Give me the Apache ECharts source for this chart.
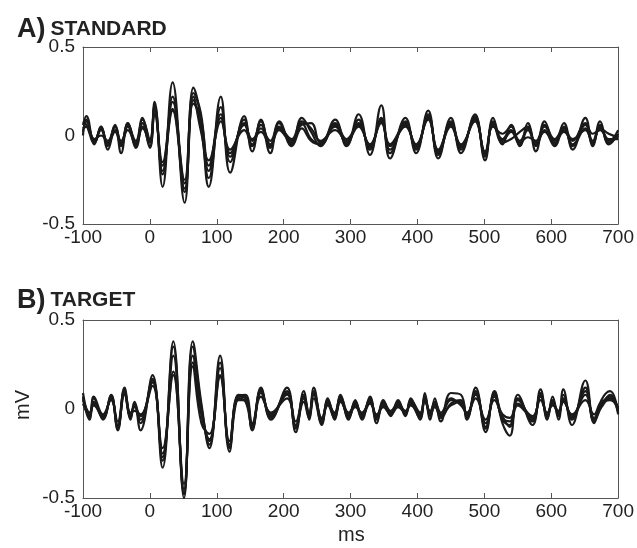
<!DOCTYPE html>
<html>
<head>
<meta charset="utf-8">
<script src="https://cdn.jsdelivr.net/npm/echarts@6/dist/echarts.min.js"></script>
<style>
  html, body { margin: 0; padding: 0; background: #fff; }
  #main { width: 637px; height: 548px; }
</style>
</head>
<body>
<div id="main"></div>
<script>
// x tick values (ms)
var xTicks = [-100, 0, 100, 200, 300, 400, 500, 600, 700];

// A) STANDARD - sample times (ms) and five overlaid traces (mV)
var timeStandard = [-100, -95, -83, -73, -63, -52, -43, -33, -21, -11, 0, 7, 19, 34, 52, 65, 76, 88, 106, 120,
  141, 153, 166, 180, 193, 212, 227, 241, 255, 277, 294, 312, 329, 346, 359, 382, 398, 416, 431, 450,
  465, 486, 501, 513, 527, 540, 553, 565, 577, 590, 605, 619, 632, 651, 662, 673, 686, 700];
var standard1 = [0.06, 0.11, -0.05, 0.05, -0.06, 0.06, -0.05, 0.07, -0.06, 0.10, -0.04, 0.19, -0.29, 0.30, -0.38, 0.27, 0.10, -0.29, 0.22, -0.21,
  0.11, -0.09, 0.09, -0.10, 0.07, -0.05, 0.10, 0.02, -0.06, 0.09, -0.06, 0.12, -0.11, 0.17, -0.13, 0.10, -0.10, 0.14, -0.13, 0.10,
  -0.10, 0.12, -0.14, 0.10, -0.05, 0.06, -0.06, 0.07, -0.09, 0.08, -0.05, 0.07, -0.08, 0.10, -0.06, 0.08, -0.05, 0.01];
var standard2 = [0.02, 0.08, -0.03, 0.04, -0.08, 0.03, -0.03, 0.05, -0.07, 0.07, -0.07, 0.15, -0.17, 0.15, -0.27, 0.24, 0.13, -0.20, 0.10, -0.10,
  0.06, -0.03, 0.06, -0.05, 0.04, -0.03, 0.06, 0.07, -0.04, 0.05, -0.04, 0.07, -0.06, 0.08, -0.08, 0.07, -0.07, 0.11, -0.10, 0.08,
  -0.07, 0.10, -0.11, 0.07, -0.02, 0.03, -0.03, 0.04, -0.05, 0.05, -0.03, 0.03, -0.05, 0.06, -0.03, 0.05, -0.02, -0.02];
var standard3 = [0.08, 0.06, -0.04, 0.03, -0.04, 0.05, -0.10, 0.06, -0.03, 0.09, -0.02, 0.17, -0.22, 0.22, -0.32, 0.20, 0.05, -0.24, 0.16, -0.15,
  0.09, -0.06, 0.04, -0.03, 0.08, -0.06, 0.04, -0.03, -0.05, 0.06, -0.05, 0.09, -0.08, 0.10, -0.10, 0.08, -0.08, 0.12, -0.11, 0.07,
  -0.08, 0.11, -0.12, 0.08, -0.04, -0.02, 0.02, 0.05, -0.06, 0.03, -0.06, 0.05, -0.06, 0.04, -0.05, 0.06, -0.04, 0.00];
var standard4 = [0.00, 0.09, -0.02, 0.00, -0.03, 0.05, -0.04, 0.03, -0.05, 0.05, -0.06, 0.12, -0.15, 0.19, -0.25, 0.18, 0.10, -0.17, 0.12, -0.08,
  0.03, -0.05, 0.08, -0.07, 0.05, -0.02, 0.08, 0.04, -0.03, 0.03, -0.03, 0.05, -0.05, 0.07, -0.06, 0.05, -0.05, 0.09, -0.08, 0.06,
  -0.05, 0.08, -0.09, 0.05, 0.01, 0.05, -0.04, -0.01, -0.03, 0.06, -0.02, 0.04, -0.03, 0.07, 0.01, 0.03, -0.03, 0.03];
var standard5 = [0.04, 0.05, -0.04, 0.05, -0.05, 0.02, -0.06, 0.07, -0.04, 0.04, -0.03, 0.16, -0.20, 0.14, -0.30, 0.22, 0.03, -0.14, 0.08, -0.12,
  0.07, -0.02, 0.02, -0.06, 0.03, -0.04, 0.07, -0.02, -0.05, 0.07, -0.02, 0.06, -0.07, 0.09, -0.05, 0.06, -0.06, 0.10, -0.09, 0.05,
  -0.06, 0.09, -0.10, 0.06, -0.03, 0.02, -0.05, 0.03, -0.04, 0.02, -0.04, 0.02, -0.02, 0.03, -0.04, 0.04, 0.01, -0.01];

// B) TARGET - sample times (ms) and five overlaid traces (mV)
var timeTarget = [-100, -90, -84, -70, -58, -48, -38, -29, -23, -14, 4, 19, 35, 51, 64, 77, 89, 105, 119, 132,
  143, 153, 166, 181, 205, 218, 230, 238, 245, 257, 266, 276, 285, 297, 307, 317, 329, 339, 349, 360,
  371, 382, 390, 404, 411, 419, 426, 435, 450, 465, 474, 487, 502, 515, 527, 538, 550, 572, 584, 594,
  602, 611, 618, 631, 651, 664, 675, 688, 700];
var target1 = [0.09, -0.05, 0.06, -0.06, 0.08, -0.12, 0.12, -0.05, 0.03, -0.12, 0.19, -0.33, 0.38, -0.50, 0.38, 0.03, -0.22, 0.30, -0.24, 0.08,
  0.07, -0.12, 0.12, -0.06, 0.12, -0.13, 0.10, -0.06, 0.12, -0.09, 0.06, -0.06, 0.08, -0.06, 0.05, -0.06, 0.07, -0.08, 0.05, -0.04,
  0.05, -0.04, 0.06, -0.06, 0.09, -0.06, 0.06, -0.07, 0.09, 0.08, -0.06, 0.12, -0.13, 0.10, -0.08, -0.15, 0.08, -0.09, 0.11, -0.06,
  0.07, -0.06, 0.11, -0.09, 0.16, -0.08, 0.05, 0.10, -0.02];
var target2 = [0.05, -0.03, 0.03, -0.04, 0.06, -0.09, 0.10, -0.03, 0.01, -0.04, 0.15, -0.25, 0.21, -0.45, 0.26, -0.03, -0.17, 0.19, -0.20, 0.06,
  0.04, -0.10, 0.09, -0.03, 0.08, -0.09, 0.07, -0.02, 0.09, -0.06, 0.04, -0.04, 0.05, -0.04, 0.03, -0.03, 0.05, -0.05, 0.03, -0.02,
  0.02, -0.02, 0.03, -0.04, 0.05, -0.02, 0.03, -0.04, 0.05, 0.03, -0.03, 0.08, -0.08, 0.07, -0.05, -0.07, 0.05, -0.06, 0.07, -0.03,
  0.03, -0.02, 0.06, -0.05, 0.08, -0.05, 0.03, 0.07, 0.00];
var target3 = [0.07, -0.06, 0.04, -0.05, 0.07, -0.10, 0.08, -0.06, 0.04, -0.06, 0.17, -0.29, 0.35, -0.47, 0.35, 0.01, -0.20, 0.26, -0.22, 0.07,
  0.08, -0.08, 0.10, -0.04, 0.10, -0.11, 0.06, -0.04, 0.08, -0.07, 0.05, -0.03, 0.06, -0.05, 0.02, -0.05, 0.06, -0.06, 0.02, -0.03,
  0.04, -0.03, 0.04, -0.03, 0.07, -0.04, 0.02, -0.05, 0.03, 0.05, -0.04, 0.10, -0.10, 0.09, -0.06, -0.09, 0.06, -0.07, 0.08, -0.04,
  0.05, -0.04, 0.08, -0.06, 0.12, -0.06, 0.02, 0.08, -0.03];
var target4 = [0.03, -0.04, 0.07, -0.03, 0.05, -0.07, 0.11, -0.02, -0.01, -0.03, 0.13, -0.22, 0.19, -0.42, 0.24, -0.08, -0.14, 0.18, -0.18, 0.05,
  0.05, -0.09, 0.07, -0.02, 0.06, -0.07, 0.08, -0.03, 0.10, -0.05, 0.02, -0.05, 0.04, -0.03, 0.04, -0.04, 0.03, -0.04, 0.04, -0.01,
  0.03, -0.01, 0.02, -0.05, 0.04, -0.01, 0.04, -0.02, 0.06, 0.02, -0.02, 0.06, -0.06, 0.05, -0.03, -0.05, 0.03, -0.04, 0.05, -0.02,
  0.02, -0.01, 0.04, -0.03, 0.05, -0.03, 0.04, 0.05, 0.01];
var target5 = [0.06, -0.02, 0.02, -0.05, 0.08, -0.11, 0.09, -0.04, 0.02, -0.08, 0.16, -0.27, 0.30, -0.48, 0.30, -0.02, -0.18, 0.23, -0.21, 0.07,
  0.06, -0.11, 0.11, -0.05, 0.09, -0.10, 0.04, -0.05, 0.06, -0.08, 0.03, -0.02, 0.07, -0.02, 0.01, -0.02, 0.04, -0.03, 0.01, -0.03,
  0.01, -0.02, 0.05, -0.02, 0.06, -0.03, 0.01, -0.03, 0.02, 0.04, -0.05, 0.09, -0.11, 0.08, -0.04, -0.10, 0.02, -0.05, 0.09, -0.05,
  0.04, -0.03, 0.05, -0.04, 0.10, -0.07, 0.01, 0.06, -0.01];

var chart = echarts.init(document.getElementById('main'));

var fontName = 'Liberation Sans, Arial, sans-serif';
var lineColor = '#1a1a1a';

function pairs(times, vals) {
    return times.map(function (t, i) { return [t, vals[i]]; });
}

function traceSeries(idx, times, list) {
    return list.map(function (vals) {
        return {
            type: 'line',
            xAxisIndex: idx * 2,
            yAxisIndex: idx,
            data: pairs(times, vals),
            showSymbol: false,
            smooth: 0.45,
            lineStyle: { color: lineColor, width: 2.2 },
            silent: true,
            animation: false
        };
    });
}

function xAxisFor(idx, pos) {
    return {
        type: 'value', gridIndex: idx, position: pos, min: -100, max: 700, interval: 100,
        axisLine: { show: true, onZero: false, lineStyle: { color: '#555', width: 1 } },
        axisTick: { show: true, inside: true, length: 5, lineStyle: { color: '#555' } },
        axisLabel: { show: pos === 'bottom', color: '#222', fontSize: 19, fontFamily: fontName, margin: 4 },
        splitLine: { show: false }
    };
}

function yAxisFor(idx, pos) {
    return {
        type: 'value', gridIndex: idx, position: pos, min: -0.5, max: 0.5, interval: 0.5,
        axisLine: { show: true, onZero: false, lineStyle: { color: '#555', width: 1 } },
        axisTick: { show: false },
        axisLabel: { show: pos === 'left', color: '#222', fontSize: 19, fontFamily: fontName, margin: 8 },
        splitLine: { show: false }
    };
}

var option = {
    backgroundColor: '#fff',
    title: [
        {
            text: '{a|A)} {b|STANDARD}', left: 12, top: 11,
            textStyle: { rich: {
                a: { fontSize: 27, fontWeight: 'bold', fontFamily: fontName, color: '#222' },
                b: { fontSize: 21, fontWeight: 'bold', fontFamily: fontName, color: '#222' }
            } }
        },
        {
            text: '{a|B)} {b|TARGET}', left: 12, top: 282,
            textStyle: { rich: {
                a: { fontSize: 27, fontWeight: 'bold', fontFamily: fontName, color: '#222' },
                b: { fontSize: 21, fontWeight: 'bold', fontFamily: fontName, color: '#222' }
            } }
        }
    ],
    grid: [
        { left: 83, top: 47, width: 538, height: 177 },
        { left: 83, top: 320, width: 538, height: 178 }
    ],
    xAxis: [xAxisFor(0, 'bottom'), xAxisFor(0, 'top'), xAxisFor(1, 'bottom'), xAxisFor(1, 'top')],
    yAxis: [yAxisFor(0, 'left'), yAxisFor(1, 'left'), yAxisFor(0, 'right'), yAxisFor(1, 'right')],
    graphic: [
        { type: 'text', left: 13, top: 390, rotation: Math.PI / 2,
          style: { text: 'mV', fontSize: 20, fontFamily: fontName, fill: '#222' } },
        { type: 'text', left: 338, top: 525,
          style: { text: 'ms', fontSize: 20, fontFamily: fontName, fill: '#222' } }
    ],
    series: traceSeries(0, timeStandard, [standard1, standard2, standard3, standard4, standard5])
        .concat(traceSeries(1, timeTarget, [target1, target2, target3, target4, target5]))
};

chart.setOption(option);
</script>
</body>
</html>
